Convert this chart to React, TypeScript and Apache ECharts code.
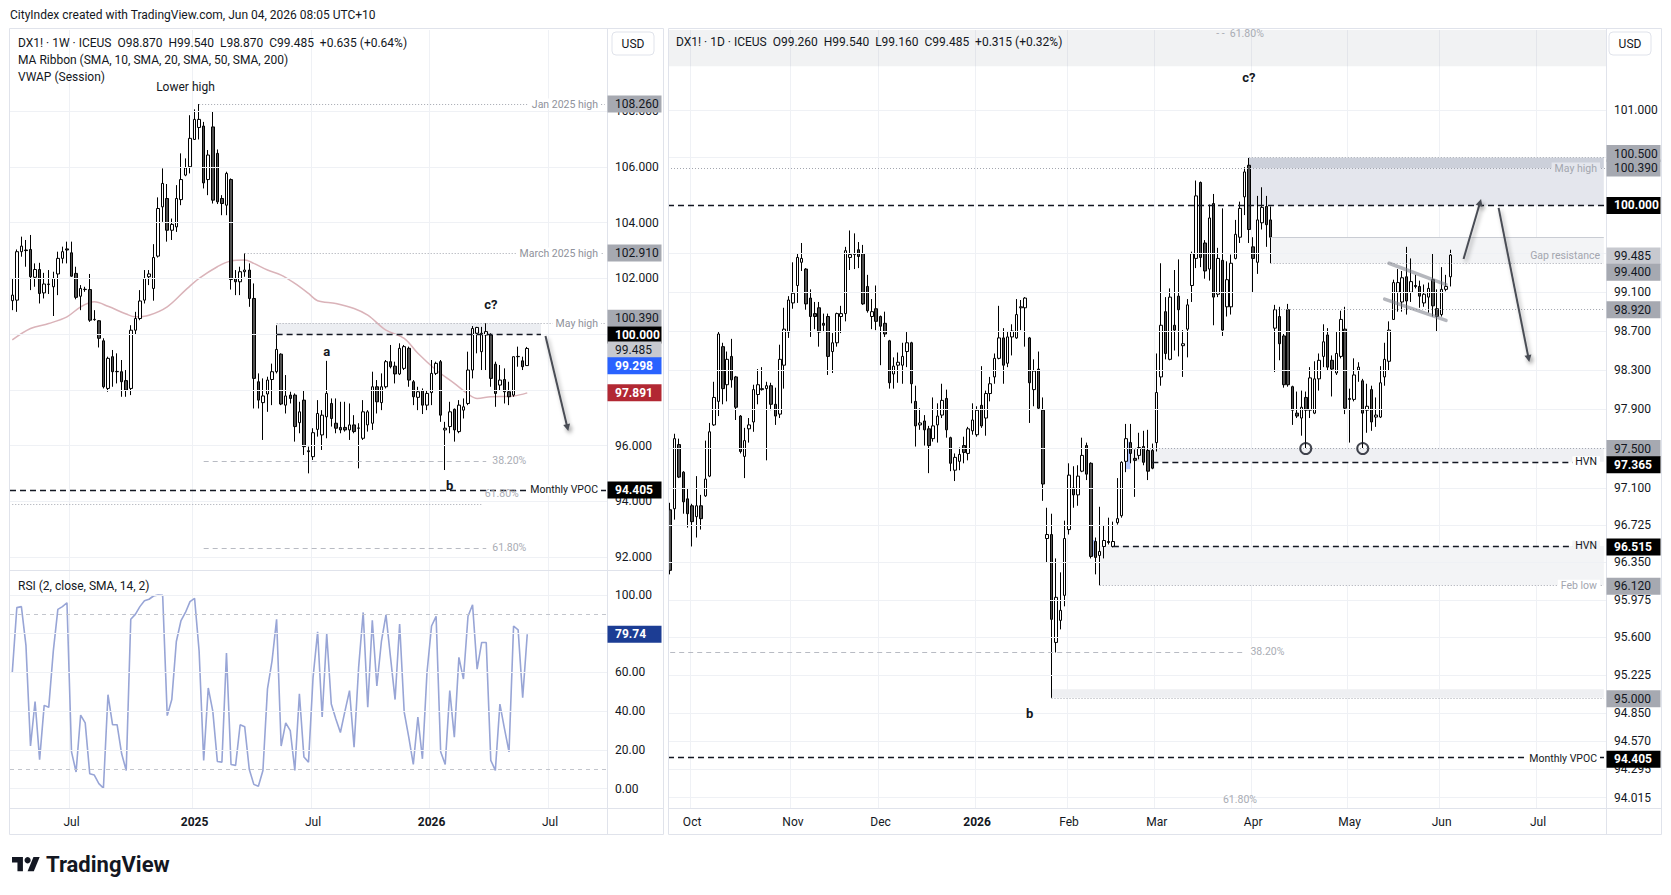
import React, { useEffect, useRef } from "react";
import * as echarts from "echarts";

const FONT = "Roboto, 'Noto Sans', Arial, sans-serif";
const TXT = "#131722";
const GRAY = "#8f929b";
const GRIDC = "#eff1f5";

// ---------------- weekly chart (DX1! 1W) ----------------
const weeklyStart = [2024, 3, 1]; // first weekly bar 2024-04-01
const weeklySlots = 131;
// [open, high, low, close]
const weeklyOHLC: number[][] = [
  [101.2, 102.0, 100.86, 101.4], [101.22, 103.04, 100.8, 102.96], [102.96, 103.5, 102.78, 103.16], [103.02, 103.38, 102.42, 103.0],
  [103.04, 103.56, 101.58, 102.06], [102.04, 102.54, 101.7, 102.32], [102.32, 102.56, 101.1, 101.46], [101.48, 102.2, 101.28, 101.8],
  [101.78, 102.3, 101.44, 101.8], [101.7, 102.24, 100.65, 102.0], [102.16, 102.96, 101.4, 102.72], [102.72, 103.14, 102.54, 102.96],
  [103.06, 103.32, 102.54, 103.02], [102.92, 103.32, 102.06, 102.08], [102.18, 102.42, 101.25, 101.32], [101.36, 101.76, 100.86, 101.64],
  [101.6, 101.7, 101.52, 101.61], [101.6, 102.16, 100.44, 100.5], [100.52, 100.86, 100.48, 100.53], [100.48, 100.5, 99.52, 99.85],
  [99.76, 99.85, 98.05, 98.11], [98.05, 99.19, 97.93, 99.13], [99.19, 99.43, 98.11, 98.65], [98.65, 99.31, 98.23, 98.66],
  [98.65, 99.07, 97.75, 98.29], [98.33, 98.71, 97.75, 97.99], [98.05, 100.32, 97.81, 100.14], [100.14, 100.8, 99.97, 100.56],
  [100.56, 101.58, 100.5, 101.19], [101.22, 102.3, 101.1, 102.0], [102.06, 102.3, 101.76, 102.16], [101.64, 103.23, 101.2, 102.75],
  [102.8, 104.91, 102.75, 104.51], [104.57, 105.95, 104.03, 105.41], [104.87, 105.39, 103.32, 103.73], [103.73, 104.15, 103.38, 103.94],
  [103.85, 105.35, 103.67, 104.87], [104.83, 106.49, 104.63, 105.55], [105.71, 106.31, 105.67, 105.97], [106.01, 107.86, 105.77, 107.03],
  [106.99, 108.07, 106.97, 107.71], [107.42, 108.26, 106.99, 107.71], [107.47, 107.62, 105.23, 105.43], [105.55, 106.61, 104.99, 106.43],
  [107.44, 107.98, 104.69, 104.81], [106.49, 106.63, 104.67, 104.75], [104.87, 104.99, 104.27, 104.69], [104.63, 105.83, 104.27, 105.77],
  [105.55, 105.59, 101.6, 101.96], [102.0, 102.3, 101.4, 101.88], [101.88, 102.42, 101.4, 102.24], [102.24, 102.9, 102.06, 102.3],
  [102.3, 102.54, 100.98, 101.28], [101.28, 101.82, 97.33, 98.41], [98.29, 98.59, 97.33, 97.63], [97.54, 98.41, 96.2, 97.78],
  [97.85, 98.47, 97.21, 98.35], [98.37, 98.94, 97.45, 98.65], [98.65, 100.32, 98.59, 99.45], [99.28, 99.31, 97.45, 97.49],
  [97.45, 98.53, 97.15, 97.78], [97.81, 97.93, 97.51, 97.69], [97.81, 97.87, 96.14, 96.68], [96.82, 97.57, 96.44, 97.21],
  [97.63, 97.99, 95.66, 95.96], [95.81, 95.96, 95.0, 95.78], [95.6, 96.62, 95.48, 96.46], [96.58, 97.63, 96.32, 97.15],
  [96.38, 97.27, 95.84, 97.09], [97.03, 99.04, 96.26, 97.87], [97.51, 97.69, 96.68, 96.97], [96.8, 97.69, 96.44, 96.62],
  [96.65, 97.57, 96.44, 96.56], [96.65, 97.57, 96.5, 96.56], [96.56, 97.51, 96.2, 96.74], [96.74, 97.09, 96.44, 96.5],
  [96.62, 96.8, 95.18, 96.63], [96.26, 97.63, 96.2, 97.21], [96.74, 97.27, 96.5, 97.21], [96.8, 98.65, 96.56, 98.11],
  [98.11, 98.35, 97.15, 97.57], [97.54, 98.59, 97.27, 98.11], [98.11, 99.07, 98.05, 99.01], [99.01, 99.61, 98.77, 98.83],
  [98.85, 99.01, 98.23, 98.57], [98.57, 99.67, 98.53, 99.49], [98.77, 99.61, 98.71, 99.55], [99.49, 99.55, 98.11, 98.35],
  [98.29, 98.35, 97.45, 97.75], [97.73, 98.11, 97.27, 97.93], [97.97, 98.05, 97.13, 97.45], [97.45, 97.99, 97.27, 97.87],
  [97.9, 99.07, 97.45, 98.59], [98.59, 99.01, 98.53, 98.95], [99.01, 99.07, 96.85, 97.09], [96.56, 96.85, 95.12, 96.62],
  [96.68, 97.57, 96.44, 97.21], [97.3, 97.33, 96.14, 96.56], [96.5, 97.63, 96.44, 97.45], [97.27, 97.69, 96.97, 97.39],
  [97.51, 99.37, 97.45, 98.71], [98.71, 100.29, 98.41, 100.2], [100.03, 100.26, 99.31, 100.24], [99.37, 100.26, 98.71, 100.03],
  [99.97, 100.39, 98.71, 100.09], [99.97, 100.03, 98.11, 98.41], [98.92, 99.01, 97.39, 97.87], [98.17, 98.89, 97.99, 98.35],
  [98.37, 98.77, 97.51, 97.93], [97.93, 98.29, 97.45, 97.75], [97.81, 99.19, 97.75, 99.19], [99.19, 99.55, 98.83, 99.2],
  [99.04, 99.19, 98.71, 98.83], [98.87, 99.54, 98.87, 99.485],
];
// moving average knots [bar index, value]
const weeklyMA: number[][] = [
  [0, 99.79], [4, 100.2], [8, 100.38], [12, 100.62], [15, 100.98], [18, 101.16], [21, 101.0], [25, 100.72], [27, 100.62],
  [30, 100.68], [34, 100.98], [38, 101.58], [41, 102.0], [45, 102.42], [48, 102.63], [51, 102.66], [53, 102.54], [56, 102.3],
  [59, 102.12], [62, 101.82], [65, 101.46], [67, 101.2], [71, 101.1], [75, 100.92], [78, 100.68], [82, 100.14], [86, 99.85],
  [89, 99.31], [93, 98.71], [97, 98.23], [100, 97.85], [102, 97.69], [105, 97.75], [110, 97.78], [113, 97.891],
];
const weeklyRSI: number[] = [
  60, 93.5, 94, 74, 22, 45, 15, 43, 42, 71, 92.6, 94, 96, 19, 8.6, 38, 34, 7.7, 7, 2.6,
  0.3, 48.5, 33, 33, 18, 9.4, 87.5, 90, 94, 97, 97.8, 99.5, 100, 99.8, 37.7, 46, 76, 86.6, 91, 96.6,
  98.3, 71, 14.6, 52, 40, 14, 13.7, 70, 12.5, 12, 33, 32, 10, 2.2, 1.2, 9.4, 51.5, 66, 87.5, 22,
  34, 30, 9.4, 49, 16.3, 13.7, 57.5, 81, 37, 80, 43.7, 36, 29, 40, 50.6, 21.4, 62.6, 91, 42, 87,
  53, 76, 89.7, 67.8, 46, 85, 39.5, 26.6, 12.5, 37, 15.4, 60, 84, 89, 19, 12.5, 50.6, 26.6, 67.8, 56.6,
  89, 95, 61.7, 75.5, 75.5, 14.6, 9.4, 43.7, 31, 19, 84, 82, 47, 79.74,
];
const weeklyGridTicks = [92, 94, 96, 98, 100, 102, 104, 106, 108];
const weeklyLabelTicks = [92, 94, 96, 102, 104, 106, 108];
const rsiGridTicks = [0, 20, 40, 60, 80, 100];
const rsiLabelTicks = [0, 20, 40, 60, 100];
const rsiBands = [90, 10];

// ---------------- daily chart (DX1! 1D) ----------------
const dailyStart = [2025, 8, 24]; // first daily bar 2025-09-24
const dailySlots = 214;
const dailyHolidays = ["2025-12-25", "2026-01-01"];
// [open, high, low, close]
const dailyOHLC: number[][] = [
  [96.88, 96.95, 96.23, 96.27], [96.89, 97.65, 96.78, 97.6], [97.54, 97.6, 97.2, 97.21], [97.26, 97.27, 96.84, 96.96],
  [96.99, 97.1, 96.7, 96.84], [96.92, 96.94, 96.51, 96.76], [96.81, 97.22, 96.6, 96.92], [96.92, 97.03, 96.68, 96.79],
  [97.02, 97.58, 97.01, 97.19], [97.22, 97.76, 97.21, 97.67], [97.74, 98.18, 97.73, 98.02], [97.98, 98.69, 97.83, 98.67],
  [98.54, 98.58, 97.95, 98.11], [98.15, 98.49, 97.98, 98.41], [98.44, 98.62, 98.12, 98.2], [98.23, 98.24, 97.79, 97.92],
  [97.83, 97.84, 97.45, 97.47], [97.42, 97.71, 97.2, 97.58], [97.7, 97.81, 97.56, 97.74], [97.77, 98.15, 97.67, 98.1],
  [98.05, 98.31, 97.95, 98.15], [98.1, 98.33, 98.09, 98.11], [98.11, 98.18, 97.38, 98.14], [98.14, 98.17, 97.89, 97.95],
  [97.95, 98.12, 97.74, 97.83], [97.85, 98.56, 97.81, 98.41], [98.35, 98.94, 98.11, 98.72], [98.69, 99.06, 98.63, 99.02],
  [98.99, 99.41, 98.93, 99.09], [99.17, 99.5, 98.99, 99.46], [99.41, 99.61, 99.32, 99.45], [99.34, 99.35, 98.92, 98.98],
  [99.04, 99.13, 98.64, 98.85], [98.88, 99.0, 98.72, 98.85], [98.94, 99.0, 98.54, 98.69], [98.78, 98.88, 98.69, 98.76],
  [98.85, 98.88, 98.25, 98.44], [98.49, 98.68, 98.27, 98.58], [98.58, 98.89, 98.54, 98.88], [98.85, 98.96, 98.68, 98.88],
  [98.88, 99.57, 98.8, 99.53], [99.46, 99.74, 99.33, 99.49], [99.49, 99.71, 99.34, 99.5], [99.54, 99.62, 99.35, 99.47],
  [99.5, 99.59, 98.97, 98.98], [99.16, 99.28, 98.89, 98.91], [98.85, 99.03, 98.72, 98.9], [98.93, 99.17, 98.71, 98.8],
  [98.85, 98.86, 98.35, 98.75], [98.78, 98.9, 98.64, 98.67], [98.6, 98.61, 98.11, 98.17], [98.26, 98.43, 98.11, 98.34],
  [98.35, 98.48, 98.17, 98.38], [98.35, 98.58, 98.16, 98.44], [98.49, 98.69, 98.33, 98.58], [98.58, 98.59, 97.96, 98.16],
  [97.98, 98.14, 97.52, 97.73], [97.74, 97.91, 97.69, 97.76], [97.78, 97.84, 97.53, 97.69], [97.7, 97.73, 97.25, 97.53],
  [97.6, 98.02, 97.57, 97.73], [97.74, 97.96, 97.56, 97.83], [97.84, 98.16, 97.81, 97.99], [98.01, 98.1, 97.61, 97.69],
  [97.61, 97.62, 97.27, 97.35], [97.28, 97.45, 97.17, 97.41], [97.37, 97.51, 97.28, 97.44], [97.53, 97.62, 97.35, 97.46],
  [97.45, 97.72, 97.38, 97.7], [97.68, 97.96, 97.64, 97.79], [97.64, 97.93, 97.62, 97.89], [97.94, 98.34, 97.71, 97.73],
  [97.81, 98.09, 97.63, 98.06], [98.06, 98.23, 97.98, 98.16], [98.23, 98.47, 98.16, 98.42], [98.42, 98.96, 98.41, 98.63],
  [98.63, 98.73, 98.16, 98.35], [98.37, 98.69, 98.33, 98.64], [98.64, 98.77, 98.45, 98.7], [98.63, 99.03, 98.62, 98.87],
  [98.94, 99.02, 98.71, 98.95], [98.94, 99.05, 98.54, 99.04], [98.63, 98.64, 97.76, 98.17], [98.1, 98.41, 97.93, 98.29],
  [98.31, 98.49, 97.9, 97.91], [97.89, 98.02, 96.97, 97.14], [96.59, 96.9, 96.35, 96.63], [96.63, 96.84, 95.0, 95.78],
  [95.55, 96.39, 95.45, 96.0], [95.77, 96.25, 95.68, 95.87], [96.02, 96.77, 95.91, 96.59], [96.68, 97.35, 96.63, 97.23],
  [97.1, 97.32, 96.9, 97.03], [97.03, 97.33, 96.92, 97.22], [97.27, 97.61, 97.26, 97.43], [97.53, 97.56, 97.18, 97.24],
  [97.35, 97.36, 96.39, 96.41], [96.56, 96.6, 96.23, 96.4], [96.42, 96.91, 96.12, 96.46], [96.51, 96.72, 96.39, 96.57],
  [96.56, 96.8, 96.53, 96.55], [96.51, 96.76, 96.5, 96.56], [96.75, 97.2, 96.73, 96.79], [96.82, 97.37, 96.8, 97.36],
  [97.37, 97.75, 97.26, 97.6], [97.56, 97.75, 97.35, 97.45], [97.4, 97.49, 97.01, 97.38], [97.43, 97.66, 97.39, 97.51],
  [97.52, 97.68, 97.33, 97.36], [97.48, 97.69, 97.18, 97.27], [97.48, 97.55, 97.29, 97.3], [97.56, 98.47, 97.47, 98.07],
  [98.23, 99.4, 98.14, 98.76], [98.9, 99.05, 98.41, 98.47], [98.41, 99.14, 98.4, 99.05], [98.76, 99.33, 98.5, 98.71],
  [99.06, 99.44, 98.44, 98.92], [98.55, 98.71, 98.23, 98.57], [98.72, 99.03, 98.43, 98.97], [99.17, 99.52, 99.0, 99.5],
  [99.45, 100.26, 99.35, 100.1], [100.24, 100.25, 99.36, 99.46], [99.61, 99.64, 99.24, 99.32], [99.34, 100.01, 99.22, 99.87],
  [100.02, 100.12, 98.76, 99.05], [99.08, 99.56, 99.05, 99.45], [99.43, 99.97, 98.65, 98.71], [98.95, 99.42, 98.85, 99.23],
  [98.95, 99.49, 98.87, 99.4], [99.45, 99.85, 99.44, 99.7], [99.67, 100.04, 99.61, 99.97], [100.09, 100.4, 99.9, 100.35],
  [100.42, 100.5, 99.61, 99.75], [99.57, 99.67, 99.1, 99.45], [99.41, 100.1, 99.29, 99.85], [99.82, 100.19, 99.75, 99.98],
  [99.99, 100.1, 99.57, 99.8], [99.85, 99.99, 99.4, 99.67], [98.73, 98.97, 98.28, 98.92], [98.85, 98.95, 98.4, 98.57],
  [98.65, 98.67, 98.12, 98.15], [98.92, 98.98, 98.13, 98.15], [98.13, 98.14, 97.74, 97.89], [97.86, 98.08, 97.81, 97.83],
  [97.81, 98.09, 97.63, 97.92], [98.02, 98.08, 97.5, 97.89], [97.89, 98.33, 97.81, 98.22], [97.86, 98.39, 97.85, 98.21],
  [98.21, 98.47, 98.09, 98.4], [98.44, 98.77, 98.33, 98.59], [98.66, 98.73, 98.3, 98.33], [98.4, 98.45, 98.03, 98.31],
  [98.27, 98.69, 98.25, 98.47], [98.44, 98.91, 98.42, 98.82], [98.72, 98.95, 97.85, 97.91], [98.01, 98.11, 97.56, 98.0],
  [98.0, 98.42, 97.98, 98.25], [98.3, 98.38, 98.18, 98.33], [98.19, 98.21, 97.5, 97.86], [97.89, 98.16, 97.66, 97.93],
  [98.1, 98.14, 97.68, 97.77], [97.82, 98.02, 97.72, 97.84], [97.82, 98.34, 97.81, 98.17], [98.23, 98.58, 98.14, 98.41],
  [98.39, 98.8, 98.3, 98.71], [98.82, 99.23, 98.82, 99.2], [99.1, 99.34, 98.9, 99.2], [99.0, 99.32, 98.9, 99.25],
  [99.26, 99.57, 98.87, 99.01], [99.1, 99.45, 99.0, 99.21], [99.17, 99.28, 99.14, 99.16], [99.16, 99.22, 98.94, 99.06],
  [98.99, 99.18, 98.95, 99.08], [99.05, 99.2, 98.89, 99.14], [99.23, 99.5, 98.85, 98.96], [98.93, 99.13, 98.7, 98.85],
  [98.87, 99.36, 98.85, 99.13], [99.13, 99.28, 99.11, 99.16], [99.26, 99.54, 99.16, 99.485],
];
const dailyGridTicks = [101.0, 100.5, 99.5, 99.1, 98.7, 98.3, 97.9, 97.5, 97.1, 96.725, 96.35, 95.975, 95.6, 95.225, 94.85, 94.57, 94.295, 94.015];
const dailyLabelTicks = [101.0, 99.1, 98.7, 98.3, 97.9, 97.1, 96.725, 96.35, 95.975, 95.6, 95.225, 94.85, 94.57, 94.295, 94.015];
const lowCircles: number[][] = [[145, 97.5], [158, 97.5]];

// price tags on the axes
const weeklyTags = [
  { v: 108.26, t: "108.260", bg: "#a6a9b1", fg: TXT, b: false, dy: 0 },
  { v: 102.91, t: "102.910", bg: "#a6a9b1", fg: TXT, b: false, dy: 0 },
  { v: 100.39, t: "100.390", bg: "#a6a9b1", fg: TXT, b: false, dy: -5 },
  { v: 100.0, t: "100.000", bg: "#000000", fg: "#ffffff", b: true, dy: 1 },
  { v: 99.485, t: "99.485", bg: "#c7c9cf", fg: TXT, b: false, dy: 1.5 },
  { v: 99.298, t: "99.298", bg: "#2962ff", fg: "#ffffff", b: true, dy: 12 },
  { v: 97.891, t: "97.891", bg: "#b22833", fg: "#ffffff", b: true, dy: 0 },
  { v: 94.405, t: "94.405", bg: "#000000", fg: "#ffffff", b: true, dy: 0 },
];
const rsiTags = [{ v: 79.74, t: "79.74", bg: "#1c3d94", fg: "#ffffff", b: true, dy: 0 }];
const dailyTags = [
  { v: 100.5, t: "100.500", bg: "#a6a9b1", fg: TXT, b: false, dy: -4 },
  { v: 100.39, t: "100.390", bg: "#a6a9b1", fg: TXT, b: false, dy: 0 },
  { v: 100.0, t: "100.000", bg: "#000000", fg: "#ffffff", b: true, dy: 0 },
  { v: 99.485, t: "99.485", bg: "#c7c9cf", fg: TXT, b: false, dy: 1 },
  { v: 99.4, t: "99.400", bg: "#a6a9b1", fg: TXT, b: false, dy: 9 },
  { v: 98.92, t: "98.920", bg: "#a6a9b1", fg: TXT, b: false, dy: 0 },
  { v: 97.5, t: "97.500", bg: "#a6a9b1", fg: TXT, b: false, dy: 0 },
  { v: 97.365, t: "97.365", bg: "#000000", fg: "#ffffff", b: true, dy: 3 },
  { v: 96.515, t: "96.515", bg: "#000000", fg: "#ffffff", b: true, dy: 1 },
  { v: 96.12, t: "96.120", bg: "#a6a9b1", fg: TXT, b: false, dy: 1 },
  { v: 95.0, t: "95.000", bg: "#a6a9b1", fg: TXT, b: false, dy: 1 },
  { v: 94.405, t: "94.405", bg: "#000000", fg: "#ffffff", b: true, dy: 1 },
];

const MONTHS = ["Jan", "Feb", "Mar", "Apr", "May", "Jun", "Jul", "Aug", "Sep", "Oct", "Nov", "Dec"];

function fmtDate(t: number) {
  return new Date(t).toISOString().slice(0, 10);
}
function buildWeeks(): string[] {
  const t0 = Date.UTC(weeklyStart[0], weeklyStart[1], weeklyStart[2]);
  const out: string[] = [];
  for (let k = 0; k < weeklySlots; k++) out.push(fmtDate(t0 + k * 7 * 86400000));
  return out;
}
function buildDays(): string[] {
  let t = Date.UTC(dailyStart[0], dailyStart[1], dailyStart[2]);
  const out: string[] = [];
  while (out.length < dailySlots) {
    const d = new Date(t);
    const wd = d.getUTCDay();
    const s = fmtDate(t);
    if (wd !== 0 && wd !== 6 && dailyHolidays.indexOf(s) < 0) out.push(s);
    t += 86400000;
  }
  return out;
}
function monthFlags(cats: string[], months: number[] | null): boolean[] {
  return cats.map((c, i) => {
    if (i === 0) return false;
    const m = +c.slice(5, 7);
    if (m === +cats[i - 1].slice(5, 7)) return false;
    return months ? months.indexOf(m) >= 0 : true;
  });
}
function monthLabel(v: string) {
  const m = +v.slice(5, 7);
  return m === 1 ? "{y|" + v.slice(0, 4) + "}" : MONTHS[m - 1];
}

const S = { wGrid: 0, wArea: 1, wK: 2, wMA: 3, wLines: 4, rGrid: 5, rsi: 6, dGrid: 7, dArea: 8, dK: 9, dLines: 10, circ: 11 };

const DASH_BLACK = { color: "#131722", width: 1.3, type: [6, 4] };
const DOT_GRAY = { color: "#a3a6af", width: 1, type: [1, 2] };
const DASH_LGRAY = { color: "#b8bbc3", width: 1, type: [5, 4] };
const SOLID_LGRAY = { color: "#c9ccd3", width: 1, type: "solid" };

function seg(x1: number, x2: number, y: number, style: any) {
  return [{ coord: [x1, y], lineStyle: style }, { coord: [x2, y] }];
}
function full(y: number, style: any) {
  return { yAxis: y, lineStyle: style };
}
function box(x1: number, x2: number, y1: number, y2: number, color: string) {
  return [{ coord: [x1, y1], itemStyle: { color } }, { coord: [x2, y2] }];
}
function gridLines(ticks: number[]) {
  return {
    silent: true, symbol: ["none", "none"], label: { show: false }, animation: false,
    lineStyle: { color: GRIDC, width: 1, type: "solid" },
    data: ticks.map((v) => ({ yAxis: v })),
  };
}
function lineMarks(data: any[]) {
  return { silent: true, symbol: ["none", "none"], label: { show: false }, animation: false, data };
}

function xAxisCfg(gridIndex: number, cats: string[], flags: boolean[], showLabels: boolean) {
  return {
    type: "category", gridIndex, data: cats, boundaryGap: true,
    axisLine: { show: false }, axisTick: { show: false },
    axisLabel: {
      show: showLabels, interval: (i: number) => flags[i], formatter: monthLabel,
      color: TXT, fontSize: 12, fontFamily: FONT, margin: 8,
      rich: { y: { fontWeight: "bold", fontSize: 12, fontFamily: FONT, color: TXT } },
    },
    splitLine: { show: true, interval: (i: number) => flags[i], lineStyle: { color: GRIDC, width: 1 } },
  };
}

function buildOption() {
  const weeks = buildWeeks();
  const days = buildDays();
  const wFlags = monthFlags(weeks, [1, 7]);
  const dFlags = monthFlags(days, null);
  const WL = weeklySlots - 1;
  const DL = dailySlots - 1;
  const candleStyle = { color: "#ffffff", color0: "#4f4f4f", borderColor: "#000000", borderColor0: "#000000", borderWidth: 1 };

  const series: any[] = [
    { type: "line", xAxisIndex: 0, yAxisIndex: 0, data: [], silent: true, z: 0, markLine: gridLines(weeklyGridTicks) },
    {
      type: "line", xAxisIndex: 0, yAxisIndex: 0, data: [], silent: true, z: 1,
      markArea: { silent: true, animation: false, data: [box(58, 116, 100.0, 100.39, "#eceef2")] },
    },
    {
      type: "candlestick", xAxisIndex: 0, yAxisIndex: 0, silent: true, z: 3, barWidth: 3,
      data: weeklyOHLC.map((r) => [r[0], r[3], r[2], r[1]]), itemStyle: candleStyle,
    },
    {
      type: "line", xAxisIndex: 0, yAxisIndex: 0, silent: true, z: 3, data: weeklyMA, smooth: 0.35,
      showSymbol: false, symbol: "none", lineStyle: { color: "#dab3b9", width: 1.5 },
    },
    {
      type: "line", xAxisIndex: 0, yAxisIndex: 0, data: [], silent: true, z: 4,
      markLine: lineMarks([
        seg(41, WL, 108.26, DOT_GRAY),
        seg(51, WL, 102.91, DOT_GRAY),
        seg(58, WL, 100.39, DOT_GRAY),
        seg(58, 116, 100.0, DASH_BLACK),
        seg(42, 104, 95.45, DASH_LGRAY),
        full(94.405, DASH_BLACK),
        seg(0, 103, 93.9, DOT_GRAY),
        seg(42, 104, 92.32, DASH_LGRAY),
      ]),
    },
    { type: "line", xAxisIndex: 1, yAxisIndex: 1, data: [], silent: true, z: 0, markLine: gridLines(rsiGridTicks) },
    {
      type: "line", xAxisIndex: 1, yAxisIndex: 1, silent: true, z: 3, data: weeklyRSI, showSymbol: false, symbol: "none",
      lineStyle: { color: "#98a5d6", width: 1.6 },
      markLine: lineMarks(rsiBands.map((v) => full(v, { color: "#c3c6cd", width: 1, type: [4, 4] }))),
    },
    { type: "line", xAxisIndex: 2, yAxisIndex: 2, data: [], silent: true, z: 0, markLine: gridLines(dailyGridTicks) },
    {
      type: "line", xAxisIndex: 2, yAxisIndex: 2, data: [], silent: true, z: 1,
      markArea: {
        silent: true, animation: false,
        data: [
          [{ yAxis: 101.46, itemStyle: { color: "rgba(149,152,161,0.13)" } }, { yAxis: 101.845 }],
          box(132, DL, 100.39, 100.5, "#ccd0da"),
          box(132, DL, 100.0, 100.39, "#e4e6ed"),
          box(137, DL, 99.4, 99.67, "#f3f4f6"),
          box(104, DL, 97.365, 97.5, "#eff0f3"),
          box(98, DL, 96.12, 96.515, "#f3f4f6"),
          box(87, DL, 95.0, 95.085, "#eeeff2"),
          box(96, 97, 96.415, 96.575, "rgba(41,98,255,0.35)"),
          box(104, 105, 97.29, 97.57, "rgba(41,98,255,0.35)"),
        ],
      },
    },
    {
      type: "candlestick", xAxisIndex: 2, yAxisIndex: 2, silent: true, z: 3, barWidth: 3,
      data: dailyOHLC.map((r) => [r[0], r[3], r[2], r[1]]), itemStyle: candleStyle,
    },
    {
      type: "line", xAxisIndex: 2, yAxisIndex: 2, data: [], silent: true, z: 4,
      markLine: lineMarks([
        full(100.0, DASH_BLACK),
        full(100.39, DOT_GRAY),
        seg(132, DL, 100.5, DOT_GRAY),
        seg(137, DL, 99.67, SOLID_LGRAY),
        seg(137, DL, 99.4, DOT_GRAY),
        seg(138, DL, 98.92, DOT_GRAY),
        seg(104, DL, 97.5, DOT_GRAY),
        seg(110, 208, 97.365, DASH_BLACK),
        seg(101, 207, 96.515, DASH_BLACK),
        seg(98, DL, 96.12, DOT_GRAY),
        seg(87, DL, 95.0, DOT_GRAY),
        seg(0, 131, 95.455, DASH_LGRAY),
        full(94.405, DASH_BLACK),
      ]),
    },
    {
      type: "scatter", xAxisIndex: 2, yAxisIndex: 2, silent: true, z: 5, data: lowCircles, symbol: "circle", symbolSize: 11,
      itemStyle: { color: "rgba(255,255,255,0)", borderColor: "#131722", borderWidth: 2 },
    },
  ];

  return {
    animation: false,
    backgroundColor: "#ffffff",
    textStyle: { fontFamily: FONT },
    grid: [
      { left: 10, top: 30, width: 597, height: 540 },
      { left: 10, top: 571, width: 597, height: 237 },
      { left: 668, top: 30, width: 938, height: 778 },
    ],
    xAxis: [
      xAxisCfg(0, weeks, wFlags, false),
      xAxisCfg(1, weeks, wFlags, true),
      xAxisCfg(2, days, dFlags, true),
    ],
    yAxis: [
      {
        type: "value", gridIndex: 0, position: "right", min: 91.53, max: 110.92,
        axisLine: { show: false }, axisTick: { show: false }, splitLine: { show: false },
        axisLabel: { customValues: weeklyLabelTicks, formatter: (v: number) => v.toFixed(3), color: TXT, fontSize: 12, fontFamily: FONT, margin: 8 },
      },
      {
        type: "value", gridIndex: 1, position: "right", min: -10, max: 112.4,
        axisLine: { show: false }, axisTick: { show: false }, splitLine: { show: false },
        axisLabel: { customValues: rsiLabelTicks, formatter: (v: number) => v.toFixed(2), color: TXT, fontSize: 12, fontFamily: FONT, margin: 8 },
      },
      {
        type: "log", logBase: 10, gridIndex: 2, position: "right", min: 93.916, max: 101.845,
        axisLine: { show: false }, axisTick: { show: false }, splitLine: { show: false }, axisLabel: { show: false },
      },
    ],
    series,
  };
}

function txt(x: number, y: number, s: string, o: any = {}) {
  const style: any = {
    text: s, x: 0, y: 0, fill: o.fill || TXT, fontSize: o.size || 12, fontFamily: FONT, fontWeight: o.weight || "normal",
    align: o.align || "left", verticalAlign: o.va || "middle", textAlign: o.align || "left", textVerticalAlign: o.va || "middle",
  };
  if (o.bg) { style.backgroundColor = o.bg; style.padding = o.pad || [0, 3]; }
  return { type: "text", x, y, silent: true, z: o.z || 110, style };
}

function buildGraphics(chart: any) {
  const P = (si: number, x: number, y: number) => chart.convertToPixel({ seriesIndex: si }, [x, y]) as number[];
  const W = S.wK, R = S.rsi, D = S.dK;
  const els: any[] = [];

  // panel frames and separators
  const frame = (x: number, y: number, w: number, h: number) => ({
    type: "rect", silent: true, z: 100, shape: { x, y, width: w, height: h }, style: { fill: "none", stroke: "#e0e3eb", lineWidth: 1 },
  });
  const ln = (x1: number, y1: number, x2: number, y2: number, color = "#e0e3eb") => ({
    type: "line", silent: true, z: 100, shape: { x1, y1, x2, y2 }, style: { stroke: color, lineWidth: 1 },
  });
  els.push(frame(9.5, 28.5, 654, 806));
  els.push(frame(668.5, 28.5, 993, 806));
  els.push(ln(607.5, 29, 607.5, 834));
  els.push(ln(1606.5, 29, 1606.5, 834));
  els.push(ln(10, 570.5, 663, 570.5));
  els.push(ln(10, 808.5, 663, 808.5));
  els.push(ln(669, 808.5, 1661, 808.5));

  // daily price scale labels (log scale positions)
  dailyLabelTicks.forEach((v) => {
    const p = P(D, 0, v);
    els.push(txt(1614, p[1], v.toFixed(3), { z: 104 }));
  });

  // level labels (weekly)
  const wRight = 601;
  els.push(txt(wRight, P(W, 0, 108.26)[1], "Jan 2025 high", { align: "right", fill: GRAY, size: 10.5, bg: "#ffffff" }));
  els.push(txt(wRight, P(W, 0, 102.91)[1], "March 2025 high", { align: "right", fill: GRAY, size: 10.5, bg: "#ffffff" }));
  els.push(txt(wRight, P(W, 0, 100.39)[1], "May high", { align: "right", fill: GRAY, size: 10.5, bg: "#ffffff" }));
  els.push(txt(wRight, P(W, 0, 94.405)[1], "Monthly VPOC", { align: "right", fill: TXT, size: 10.5, bg: "#ffffff" }));
  els.push(txt(P(W, 104, 95.45)[0] + 3, P(W, 0, 95.45)[1], "38.20%", { fill: "#a9acb4", size: 10.5, bg: "#ffffff" }));
  els.push(txt(P(W, 103, 94.26)[0] + 3, P(W, 0, 94.26)[1], "61.80%", { fill: "#a9acb4", size: 10.5 }));
  els.push(txt(P(W, 104, 92.32)[0] + 3, P(W, 0, 92.32)[1], "61.80%", { fill: "#a9acb4", size: 10.5, bg: "#ffffff" }));
  // wave letters (weekly)
  let p = P(W, 38, 108.86); els.push(txt(p[0], p[1], "Lower high", { align: "center", size: 12 }));
  p = P(W, 69, 99.36); els.push(txt(p[0], p[1], "a", { align: "center", size: 13, weight: "bold" }));
  p = P(W, 105, 101.08); els.push(txt(p[0], p[1], "c?", { align: "center", size: 13, weight: "bold" }));
  p = P(W, 96, 94.55); els.push(txt(p[0], p[1], "b", { align: "center", size: 13, weight: "bold" }));

  // level labels (daily)
  const dRight = 1600;
  els.push(txt(dRight, P(D, 0, 100.39)[1], "May high", { align: "right", fill: "#a3a6af", size: 10.5, bg: "#e4e6ed" }));
  els.push(txt(dRight, P(D, 0, 99.48)[1], "Gap resistance", { align: "right", fill: "#a3a6af", size: 10.5 }));
  els.push(txt(dRight, P(D, 0, 97.365)[1], "HVN", { align: "right", fill: TXT, size: 10.5, bg: "#ffffff" }));
  els.push(txt(dRight, P(D, 0, 96.515)[1], "HVN", { align: "right", fill: TXT, size: 10.5, bg: "#f3f4f6" }));
  els.push(txt(dRight, P(D, 0, 96.12)[1], "Feb low", { align: "right", fill: "#a3a6af", size: 10.5, bg: "#ffffff" }));
  els.push(txt(dRight, P(D, 0, 94.405)[1], "Monthly VPOC", { align: "right", fill: TXT, size: 10.5, bg: "#ffffff" }));
  els.push(txt(P(D, 131, 95.455)[0] + 3, P(D, 0, 95.455)[1], "38.20%", { fill: "#a9acb4", size: 10.5, bg: "#ffffff" }));
  p = P(D, 130, 101.82); els.push(txt(p[0], p[1] + 1, "- -  61.80%", { align: "center", fill: "#a9acb4", size: 10.5 }));
  p = P(D, 130, 94.0); els.push(txt(p[0], p[1], "61.80%", { align: "center", fill: "#a9acb4", size: 10.5 }));
  p = P(D, 132, 101.34); els.push(txt(p[0], p[1], "c?", { align: "center", size: 13, weight: "bold" }));
  p = P(D, 82, 94.85); els.push(txt(p[0], p[1], "b", { align: "center", size: 13, weight: "bold" }));

  // flag channel
  const chan = (a: number[], b: number[]) => {
    const p1 = P(D, a[0], a[1]); const p2 = P(D, b[0], b[1]);
    return { type: "line", silent: true, z: 105, shape: { x1: p1[0], y1: p1[1], x2: p2[0], y2: p2[1] }, style: { stroke: "rgba(120,123,134,0.55)", lineWidth: 3.5, lineCap: "round" } };
  };
  els.push(chan([164, 99.4], [177, 99.18]));
  els.push(chan([163, 99.03], [177, 98.81]));

  // arrows
  const arrow = (si: number, a: number[], b: number[]) => {
    const p1 = P(si, a[0], a[1]); const p2 = P(si, b[0], b[1]);
    const dx = p2[0] - p1[0], dy = p2[1] - p1[1];
    const L = Math.sqrt(dx * dx + dy * dy) || 1;
    const ux = dx / L, uy = dy / L, nx = -uy, ny = ux;
    const hl = 7, hw = 3.5;
    const shadow = { shadowBlur: 4, shadowColor: "rgba(0,0,0,0.35)", shadowOffsetX: 2, shadowOffsetY: 3 };
    return [
      { type: "line", silent: true, z: 106, shape: { x1: p1[0], y1: p1[1], x2: p2[0] - ux * 4, y2: p2[1] - uy * 4 }, style: { stroke: "#4a4d55", lineWidth: 2, ...shadow } },
      {
        type: "polygon", silent: true, z: 106,
        shape: { points: [[p2[0], p2[1]], [p2[0] - ux * hl + nx * hw, p2[1] - uy * hl + ny * hw], [p2[0] - ux * hl - nx * hw, p2[1] - uy * hl - ny * hw]] },
        style: { fill: "#4a4d55", ...shadow },
      },
    ];
  };
  els.push(...arrow(W, [117, 99.93], [122, 96.52]));
  els.push(...arrow(D, [181, 99.445], [185, 100.068]));
  els.push(...arrow(D, [189, 99.975], [196, 98.383]));

  // axis price tags
  const tag = (si: number, axisX: number, t: any) => {
    const y = P(si, 0, t.v)[1] + t.dy;
    return [
      { type: "rect", silent: true, z: 120, shape: { x: axisX + 0.5, y: y - 8.5, width: 54, height: 17 }, style: { fill: t.bg } },
      txt(axisX + 8, y, t.t, { fill: t.fg, weight: t.b ? "bold" : "normal", size: 12, z: 121 }),
    ];
  };
  weeklyTags.forEach((t) => els.push(...tag(W, 607, t)));
  rsiTags.forEach((t) => els.push(...tag(R, 607, t)));
  dailyTags.forEach((t) => els.push(...tag(D, 1606, t)));

  // USD buttons
  const usd = (x: number) => [
    { type: "rect", silent: true, z: 122, shape: { x, y: 32, width: 42, height: 23, r: 4 }, style: { fill: "#ffffff", stroke: "#e0e3eb", lineWidth: 1 } },
    txt(x + 21, 44, "USD", { align: "center", size: 12, z: 123 }),
  ];
  els.push(...usd(612));
  els.push(...usd(1609));

  // headers
  els.push(txt(10, 15, "CityIndex created with TradingView.com, Jun 04, 2026 08:05 UTC+10", { size: 12 }));
  els.push(txt(18, 42.5, "DX1! \u00b7 1W \u00b7 ICEUS  O98.870  H99.540  L98.870  C99.485  +0.635 (+0.64%)", { size: 12 }));
  els.push(txt(18, 59.5, "MA Ribbon (SMA, 10, SMA, 20, SMA, 50, SMA, 200)", { size: 12 }));
  els.push(txt(18, 76.5, "VWAP (Session)", { size: 12 }));
  els.push(txt(676, 42, "DX1! \u00b7 1D \u00b7 ICEUS  O99.260  H99.540  L99.160  C99.485  +0.315 (+0.32%)", { size: 12 }));
  els.push(txt(18, 586, "RSI (2, close, SMA, 14, 2)", { size: 12 }));

  // TradingView logo
  els.push({
    type: "group", x: 12, y: 854, scaleX: 0.78, scaleY: 0.78, silent: true,
    children: [
      { type: "polygon", shape: { points: [[14, 22], [7, 22], [7, 11], [0, 11], [0, 4], [14, 4]] }, style: { fill: TXT } },
      { type: "polygon", shape: { points: [[28, 22], [20, 22], [27.5, 4], [35.5, 4]] }, style: { fill: TXT } },
      { type: "circle", shape: { cx: 20, cy: 8, r: 4 }, style: { fill: TXT } },
    ],
  });
  els.push(txt(46, 864, "TradingView", { size: 22, weight: "bold" }));

  return els;
}

export default function App() {
  const ref = useRef<HTMLDivElement>(null);
  useEffect(() => {
    const el = ref.current;
    if (!el) return;
    const chart = echarts.init(el, undefined, { renderer: "svg" });
    chart.setOption(buildOption() as any);
    chart.setOption({ graphic: buildGraphics(chart) } as any);
    return () => chart.dispose();
  }, []);
  return <div ref={ref} style={{ position: "absolute", left: 0, top: 0, width: 1671, height: 895, background: "#ffffff" }} />;
}
